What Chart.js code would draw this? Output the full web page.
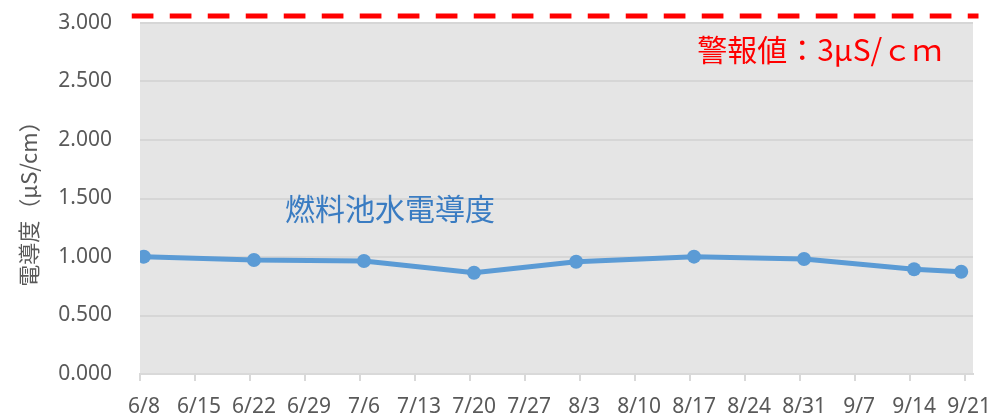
<!DOCTYPE html>
<html>
<head>
<meta charset="utf-8">
<script src="https://cdn.jsdelivr.net/npm/chart.js@4/dist/chart.umd.min.js"></script>
<style>
  html, body { margin: 0; padding: 0; background: #fff; }
  #wrap { width: 1007px; height: 416px; }
</style>
</head>
<body>
<div id="wrap"><canvas id="myLineChart"></canvas></div>
<script>
// 週ごとの目盛り
const tickLabels = ['6/8', '6/15', '6/22', '6/29', '7/6', '7/13', '7/20', '7/27',
                    '8/3', '8/10', '8/17', '8/24', '8/31', '9/7', '9/14', '9/21'];
// 測定日と燃料池水電導度 (μS/cm)
const sampleDates = ['6/8', '6/22', '7/6', '7/20', '8/2', '8/17', '8/31', '9/14', '9/20'];
const conductivity = [1.003, 0.974, 0.966, 0.866, 0.960, 1.003, 0.983, 0.895, 0.874];
// 警報値ライン
const alarmValue = 3.06;
const alarmRange = ['6/7', '9/22'];

const seriesName = '燃料池水電導度';
const alarmLabel = '警報値：3μS/ｃｍ';
const yTitle = '電導度（μS/cm）';

// 6/8 を 0 日目とした日数
function dayOf(md) {
    const [m, d] = md.split('/').map(Number);
    const t = Date.UTC(2020, m - 1, d) - Date.UTC(2020, 5, 8);
    return t / 86400000;
}

const tickDays = tickLabels.map(dayOf);
const points = sampleDates.map((d, i) => ({ x: dayOf(d) + 0.5, y: conductivity[i] }));
const alarmPoints = [
    { x: dayOf(alarmRange[0]) - 0.05, y: alarmValue },
    { x: dayOf(alarmRange[1]) + 0.7, y: alarmValue }
];

const plotBg = {
    id: 'plotBg',
    beforeDraw(chart) {
        const a = chart.chartArea;
        const ctx = chart.ctx;
        ctx.save();
        ctx.fillStyle = '#e5e5e5';
        ctx.fillRect(a.left, a.top, a.right - a.left, a.bottom - a.top);
        ctx.restore();
    }
};

// グラフ上の文字
const notes = {
    id: 'notes',
    afterDatasetsDraw(chart) {
        const ctx = chart.ctx;
        const x = chart.scales.x, y = chart.scales.y;
        ctx.save();
        ctx.textBaseline = 'middle';
        ctx.font = '30px "Noto Sans CJK JP"';
        ctx.fillStyle = '#3a7cc2';
        ctx.textAlign = 'center';
        ctx.fillText(seriesName, x.getPixelForValue(31.8), y.getPixelForValue(1.41));
        ctx.fillStyle = '#ff0000';
        ctx.textAlign = 'left';
        ctx.fillText(alarmLabel, x.getPixelForValue(70.9), y.getPixelForValue(2.77));
        ctx.restore();
    }
};

const ctx = document.getElementById('myLineChart').getContext('2d');
const lineChart = new Chart(ctx, {
    type: 'line',
    data: {
        datasets: [
            {
                label: seriesName,
                data: points,
                borderColor: '#5b9bd5',
                backgroundColor: '#5b9bd5',
                borderWidth: 5,
                pointRadius: 7,
                pointHoverRadius: 7,
                pointBorderWidth: 0,
                tension: 0,
                fill: false
            },
            {
                label: alarmLabel,
                data: alarmPoints,
                borderColor: '#ff0000',
                borderWidth: 5,
                borderDash: [21.7, 16.3],
                borderCapStyle: 'butt',
                pointRadius: 0,
                fill: false,
                clip: false
            }
        ]
    },
    options: {
        responsive: true,
        maintainAspectRatio: false,
        animation: false,
        layout: { padding: { top: 23, right: 34, left: 0, bottom: 0 } },
        plugins: {
            legend: { display: false },
            tooltip: { enabled: false }
        },
        scales: {
            x: {
                type: 'linear',
                min: 0,
                max: 106,
                afterBuildTicks: (scale) => {
                    scale.ticks = tickDays.map(v => ({ value: v }));
                },
                afterFit: (scale) => { scale.height = 42; },
                grid: {
                    drawOnChartArea: false,
                    drawTicks: true,
                    tickLength: 7,
                    color: '#d9d9d9',
                    lineWidth: 2
                },
                border: { display: true, color: '#d9d9d9', width: 2 },
                ticks: {
                    autoSkip: false,
                    maxRotation: 0,
                    minRotation: 0,
                    labelOffset: 4,
                    padding: 13,
                    color: '#595959',
                    font: { family: '"Noto Sans"', size: 21 },
                    callback: (v) => tickLabels[tickDays.indexOf(v)]
                }
            },
            y: {
                min: 0,
                max: 3,
                afterFit: (scale) => {
                    scale.width = 140;
                    // ラベル分の上下余白は不要
                    scale.paddingTop = 0;
                    scale.paddingBottom = 0;
                },
                grid: {
                    color: '#d6d6d6',
                    lineWidth: 2,
                    drawTicks: false
                },
                border: { display: false },
                ticks: {
                    stepSize: 0.5,
                    padding: 28,
                    color: '#595959',
                    font: { family: '"Noto Sans"', size: 21 },
                    callback: (v) => v.toFixed(3)
                },
                title: {
                    display: true,
                    text: yTitle,
                    color: '#595959',
                    padding: { top: 15, bottom: 0 },
                    font: { family: '"Noto Sans CJK JP"', size: 22 }
                }
            }
        }
    },
    plugins: [plotBg, notes]
});
</script>
</body>
</html>
